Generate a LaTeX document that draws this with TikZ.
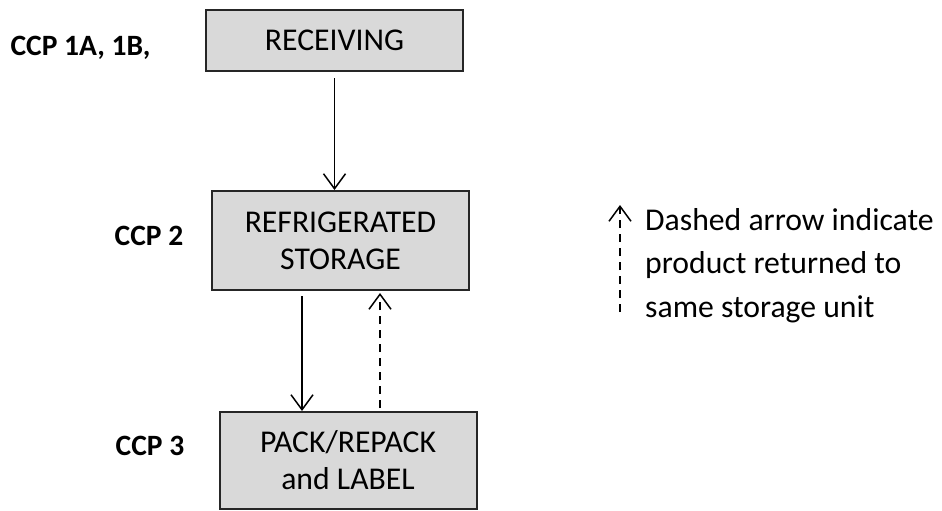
\documentclass[tikz,border=0pt]{standalone}
\usepackage{fontspec}
\setmainfont{Carlito}
\usetikzlibrary{arrows.meta,positioning}
\definecolor{boxgray}{RGB}{217,217,217}

\begin{document}
\begin{tikzpicture}[x=1pt,y=-1pt,>={Straight Barb[length=15pt,width=22pt]},
  font=\fontsize{31.7}{37}\selectfont,
  stepbox/.style={draw=black!85,line width=2pt,fill=boxgray,align=center,inner sep=0pt,minimum width=257pt},
  ccp/.style={font=\fontsize{29.5}{34}\selectfont\bfseries,anchor=base},
  flow/.style={->,line width=1.5pt},
  back/.style={flow,dash pattern=on 8pt off 6pt}]
\useasboundingbox (0,0) rectangle (942,511);
% process steps
\node[stepbox,minimum height=61pt] (rec) at (334.5,40.5) {RECEIVING};
\node[stepbox,minimum height=99pt] (ref) at (340.5,240.5) {REFRIGERATED\\STORAGE};
\node[stepbox,minimum height=97pt] (pack) at (348,460.5) {PACK/REPACK\\and LABEL};
% critical control points
\node[ccp] (ccpa) at (80.5,56) {CCP 1A, 1B,};
\node[ccp] (ccpb) at (149,245) {CCP 2};
\node[ccp] (ccpc) at (150,455) {CCP 3};
% flow
\draw[flow] ([yshift=-6pt]rec.south) -- (rec.south |- ref.north);
\draw[flow] ([xshift=-38.5pt,yshift=-5pt]ref.south) -- ([xshift=-38.5pt]ref.south |- pack.north);
\draw[back] ([xshift=32pt,yshift=3pt]pack.north) -- ([xshift=32pt,yshift=-2pt]pack.north |- ref.south);
% key
\node[anchor=north west,align=left,inner sep=0pt,font=\fontsize{31.7}{43.5}\selectfont] (key) at (645,208)
 {Dashed arrow indicate\\product returned to\\same storage unit};
\coordinate (keytail) at (620,312);
\coordinate (keyhead) at (620,205);
\draw[back] (keytail) -- (keyhead);
\end{tikzpicture}
\end{document}
